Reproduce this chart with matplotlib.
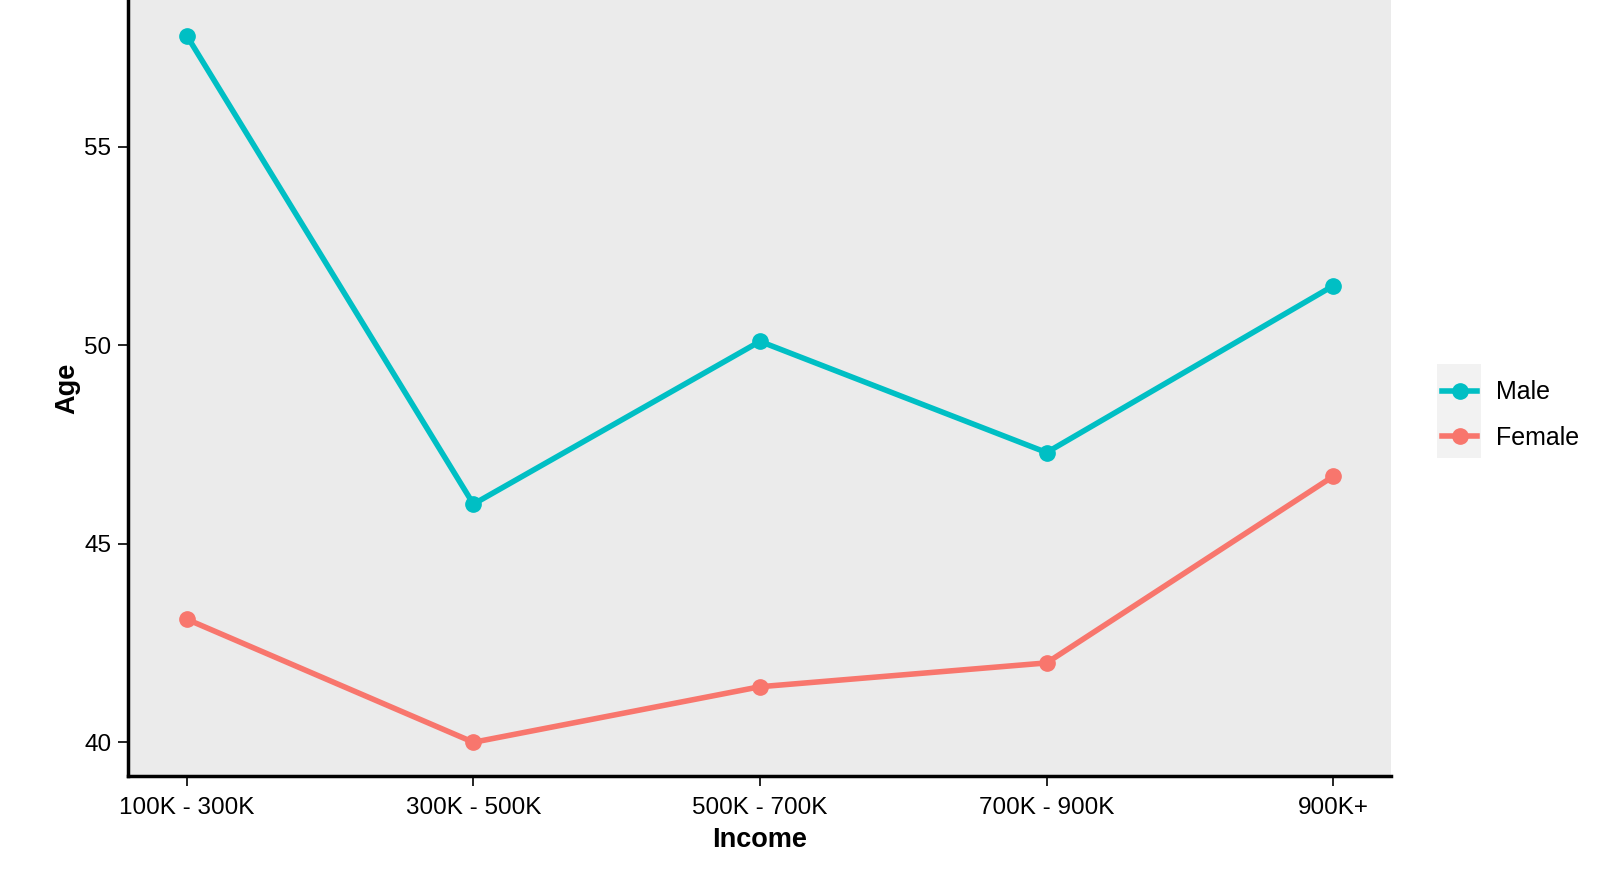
import matplotlib
matplotlib.use("Agg")
import matplotlib.pyplot as plt
from matplotlib.patches import Rectangle

plt.rcParams['font.family'] = ['Liberation Sans', 'DejaVu Sans']

income = ["100K - 300K", "300K - 500K", "500K - 700K", "700K - 900K", "900K+"]
male_age = [57.8, 46.0, 50.1, 47.3, 51.5]
female_age = [43.1, 40.0, 41.4, 42.0, 46.7]

male_col = "#00BFC4"
female_col = "#F8766D"

fig = plt.figure(figsize=(16.15, 8.75), dpi=100)
ax = fig.add_axes([0.0793, 0.1131, 0.7817, 0.8869])
ax.set_facecolor("#EBEBEB")

x = range(len(income))
ax.plot(x, male_age, color=male_col, lw=4, marker='o', ms=11, label="Male")
ax.plot(x, female_age, color=female_col, lw=4, marker='o', ms=11, label="Female")

ax.set_xlim(-0.205, 4.2)
ax.set_ylim(39.15, 58.7)
ax.set_xticks(list(x))
ax.set_xticklabels(income)
ax.set_yticks([40, 45, 50, 55])

for s in ["top", "right"]:
    ax.spines[s].set_visible(False)
for s in ["left", "bottom"]:
    ax.spines[s].set_linewidth(2.5)
    ax.spines[s].set_color("black")
ax.tick_params(axis='both', length=7, width=1.2, colors='black', labelsize=17.5)
ax.tick_params(axis='x', pad=8)
ax.tick_params(axis='y', pad=5)

ax.set_xlabel("Income", fontsize=19.5, fontweight='bold', labelpad=6)
ax.set_ylabel("Age", fontsize=19.5, fontweight='bold', labelpad=3)

# grey background behind legend keys
fig.patches.append(Rectangle((1437 / 1615, 1 - 458 / 875), 44 / 1615, 94 / 875,
                             transform=fig.transFigure, facecolor="#F2F2F2",
                             edgecolor="none", zorder=0))
leg = fig.legend(loc='center left', bbox_to_anchor=(1430 / 1615, 1 - 415 / 875),
                 frameon=False, fontsize=18, handlelength=1.4, handletextpad=0.75,
                 labelspacing=0.85, borderpad=0)

fig.savefig("out.png", dpi=100)
